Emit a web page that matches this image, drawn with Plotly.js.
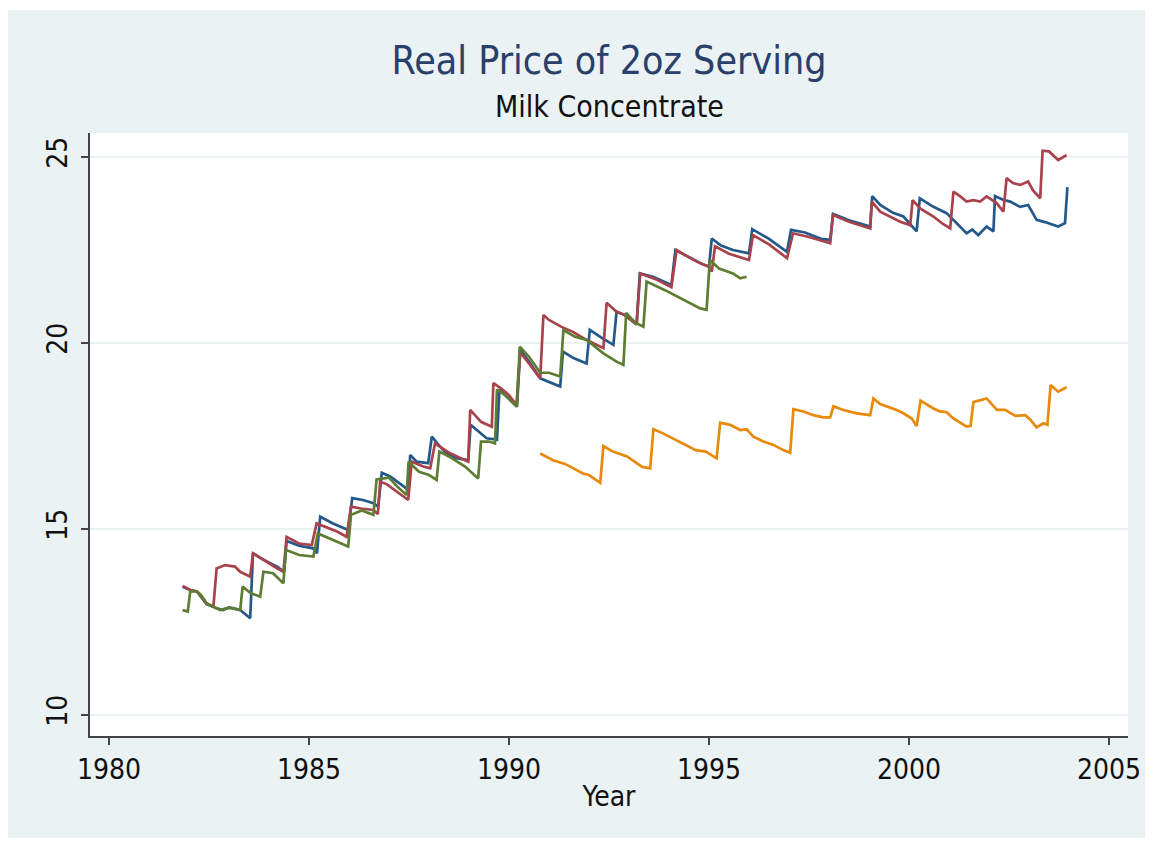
<!DOCTYPE html>
<html>
<head>
<meta charset="utf-8">
<script src="https://cdn.plot.ly/plotly-3.0.1.min.js"></script>
<style>
  html, body { margin: 0; padding: 0; background: #ffffff; width: 1153px; height: 843px; overflow: hidden; }
  #chart { position: absolute; left: 8px; top: 10px; width: 1137px; height: 828px; }
</style>
</head>
<body>
<div id="chart"></div>
<script>
// ---- Data ----
const blueYears = [1981.84,1982.03,1982.2,1982.44,1982.69,1982.85,1983.0,1983.28,1983.53,1983.6,1983.8,1984.2,1984.38,1984.44,1984.75,1985.1,1985.2,1985.28,1985.6,1985.98,1986.08,1986.35,1986.61,1986.73,1986.82,1987.03,1987.3,1987.48,1987.53,1987.69,1987.98,1988.07,1988.28,1988.44,1988.69,1988.98,1989.04,1989.44,1989.7,1989.76,1990.0,1990.2,1990.28,1990.5,1990.78,1991.0,1991.28,1991.35,1991.6,1991.94,1992.02,1992.3,1992.61,1992.69,1992.9,1993.19,1993.27,1993.6,1994.06,1994.16,1994.5,1994.8,1995.0,1995.07,1995.3,1995.6,1996.0,1996.08,1996.5,1996.95,1997.05,1997.4,1997.8,1998.03,1998.1,1998.5,1999.03,1999.08,1999.28,1999.6,1999.86,2000.19,2000.27,2000.61,2000.94,2001.11,2001.44,2001.58,2001.73,2001.94,2002.11,2002.15,2002.35,2002.53,2002.78,2002.98,2003.19,2003.4,2003.73,2003.9,2003.96];
const blueValues = [13.45,13.36,13.32,12.98,12.87,12.82,12.89,12.82,12.6,14.35,14.21,13.99,13.85,14.68,14.55,14.48,14.35,15.33,15.15,14.97,15.83,15.78,15.69,15.6,16.51,16.41,16.2,16.05,16.99,16.81,16.77,17.48,17.21,17.03,16.9,16.85,17.8,17.44,17.4,18.74,18.5,18.29,19.8,19.5,19.05,18.95,18.83,19.77,19.6,19.45,20.35,20.15,19.95,20.84,20.75,20.5,21.87,21.78,21.56,22.5,22.3,22.14,22.05,22.81,22.62,22.5,22.41,23.06,22.8,22.45,23.04,22.97,22.8,22.77,23.47,23.3,23.13,23.95,23.71,23.5,23.4,23.0,23.89,23.66,23.49,23.31,22.95,23.05,22.9,23.13,23.0,23.95,23.85,23.8,23.66,23.71,23.31,23.25,23.13,23.22,24.19];

const redYears = [1981.84,1982.03,1982.2,1982.44,1982.61,1982.69,1982.9,1983.15,1983.28,1983.53,1983.6,1983.8,1984.2,1984.36,1984.44,1984.75,1985.07,1985.19,1985.4,1985.7,1985.94,1986.05,1986.3,1986.61,1986.72,1986.78,1986.95,1987.2,1987.48,1987.57,1987.86,1988.03,1988.15,1988.5,1988.9,1988.98,1989.03,1989.3,1989.57,1989.61,1989.8,1990.0,1990.19,1990.28,1990.5,1990.78,1990.86,1991.0,1991.3,1991.6,1991.86,1992.1,1992.36,1992.44,1992.69,1992.9,1993.19,1993.28,1993.7,1994.06,1994.19,1994.5,1994.78,1995.0,1995.07,1995.15,1995.5,1996.0,1996.1,1996.5,1996.95,1997.1,1997.5,1998.03,1998.1,1998.5,1999.03,1999.07,1999.28,1999.78,2000.03,2000.09,2000.28,2000.61,2000.85,2001.03,2001.11,2001.28,2001.44,2001.61,2001.78,2001.94,2002.19,2002.36,2002.44,2002.6,2002.78,2002.98,2003.1,2003.28,2003.34,2003.5,2003.73,2003.94];
const redValues = [13.47,13.36,13.32,13.0,12.91,13.94,14.03,13.99,13.85,13.72,14.35,14.21,13.94,13.85,14.79,14.61,14.57,15.15,15.06,14.93,14.79,15.6,15.55,15.51,15.4,16.27,16.2,16.0,15.78,16.81,16.68,16.63,17.3,17.05,16.85,16.81,18.2,17.88,17.75,18.92,18.78,18.6,18.33,19.75,19.45,19.05,20.75,20.62,20.44,20.3,20.13,20.0,19.86,21.08,20.84,20.75,20.5,21.87,21.7,21.5,22.5,22.3,22.14,22.05,21.92,22.6,22.4,22.23,22.9,22.65,22.28,22.95,22.85,22.68,23.44,23.26,23.08,23.8,23.53,23.26,23.17,23.84,23.62,23.4,23.2,23.08,24.07,23.94,23.8,23.84,23.8,23.94,23.76,23.53,24.43,24.3,24.25,24.34,24.1,23.89,25.17,25.15,24.92,25.05];

const greenYears = [1981.84,1981.97,1982.03,1982.2,1982.3,1982.44,1982.61,1982.78,1982.95,1983.1,1983.28,1983.34,1983.55,1983.78,1983.86,1984.1,1984.36,1984.42,1984.75,1985.11,1985.22,1985.6,1985.98,1986.05,1986.32,1986.61,1986.69,1987.0,1987.2,1987.44,1987.49,1987.75,1988.0,1988.19,1988.26,1988.5,1988.9,1989.23,1989.3,1989.5,1989.65,1989.7,1989.9,1990.19,1990.27,1990.5,1990.78,1991.0,1991.28,1991.36,1991.65,1991.94,1992.36,1992.69,1992.86,1992.93,1993.15,1993.36,1993.44,1993.9,1994.4,1994.78,1994.94,1995.02,1995.25,1995.6,1995.78,1995.94];
const greenValues = [12.82,12.78,13.32,13.32,13.23,13.0,12.91,12.82,12.87,12.87,12.82,13.45,13.27,13.18,13.85,13.81,13.54,14.44,14.3,14.26,14.88,14.7,14.53,15.38,15.5,15.38,16.33,16.38,16.15,15.91,16.81,16.54,16.45,16.32,17.08,16.95,16.68,16.36,17.35,17.35,17.3,18.75,18.6,18.29,19.9,19.63,19.2,19.2,19.1,20.35,20.17,20.08,19.72,19.5,19.41,20.81,20.55,20.44,21.65,21.42,21.15,20.93,20.89,22.23,22.0,21.87,21.74,21.78];

const orangeYears = [1990.78,1991.1,1991.4,1991.6,1991.85,1992.0,1992.28,1992.36,1992.6,1992.95,1993.2,1993.33,1993.53,1993.61,1993.85,1994.25,1994.67,1994.92,1995.19,1995.28,1995.53,1995.78,1995.94,1996.11,1996.36,1996.61,1996.86,1997.03,1997.11,1997.36,1997.61,1997.85,1998.03,1998.11,1998.36,1998.69,1999.03,1999.11,1999.28,1999.69,1999.86,2000.07,2000.19,2000.29,2000.61,2000.78,2000.94,2001.11,2001.44,2001.54,2001.61,2001.94,2002.2,2002.4,2002.66,2002.91,2003.04,2003.19,2003.36,2003.46,2003.54,2003.73,2003.94];
const orangeValues = [17.03,16.85,16.75,16.63,16.49,16.45,16.24,17.23,17.08,16.95,16.78,16.67,16.63,17.68,17.57,17.35,17.12,17.08,16.9,17.86,17.8,17.66,17.68,17.48,17.35,17.26,17.12,17.05,18.22,18.16,18.06,18.0,18.0,18.3,18.2,18.11,18.06,18.51,18.36,18.2,18.11,17.97,17.77,18.45,18.24,18.16,18.14,17.97,17.75,17.77,18.41,18.51,18.2,18.2,18.04,18.06,17.93,17.73,17.84,17.8,18.87,18.69,18.81];

const xTicks = [1980, 1985, 1990, 1995, 2000, 2005];
const yTicks = [10, 15, 20, 25];

const titleText = 'Real Price of 2oz Serving';
const subtitleText = 'Milk Concentrate';
const xTitle = 'Year';

// ---- Styles ----
const FONT = '"Liberation Sans Narrow", "Arial Narrow", "DejaVu Sans Condensed", sans-serif';
const seriesDefs = [
  {x: blueYears, y: blueValues, color: '#22598a'},
  {x: redYears, y: redValues, color: '#a8434c'},
  {x: greenYears, y: greenValues, color: '#5d7d33'},
  {x: orangeYears, y: orangeValues, color: '#e8890a'}
];

const traces = seriesDefs.map(s => ({
  type: 'scatter', mode: 'lines', x: s.x, y: s.y,
  line: {color: s.color, width: 2.7}, hoverinfo: 'x+y', showlegend: false
}));

const layout = {
  width: 1137, height: 828,
  paper_bgcolor: '#eaf2f3',
  plot_bgcolor: '#ffffff',
  margin: {l: 82, r: 17, t: 123, b: 102},
  showlegend: false,
  title: {
    text: titleText,
    font: {family: FONT, size: 39, color: '#2b3f6b'},
    x: 0.5, xanchor: 'center', xref: 'paper',
    y: 1 - 50/828, yanchor: 'middle', yref: 'container'
  },
  annotations: [{
    text: subtitleText, xref: 'paper', yref: 'paper', x: 0.5, y: (726 - 97) / 603,
    xanchor: 'center', yanchor: 'middle', showarrow: false,
    font: {family: FONT, size: 30, color: '#111111'}
  }],
  xaxis: {
    range: [1979.525, 2005.475],
    tickvals: xTicks, ticktext: xTicks.map(String),
    ticks: 'outside', ticklen: 7, tickwidth: 1.5, tickcolor: '#444',
    showline: true, linecolor: '#444', linewidth: 2,
    showgrid: false, zeroline: false,
    tickfont: {family: FONT, size: 28, color: '#111'},
    ticklabelstandoff: 0,
    title: {text: xTitle, font: {family: FONT, size: 28, color: '#111'}, standoff: 2}
  },
  yaxis: {
    range: [9.435, 25.645],
    tickvals: yTicks, ticktext: yTicks.map(String),
    ticks: 'outside', ticklen: 7, tickwidth: 1.5, tickcolor: '#444',
    showline: true, linecolor: '#444', linewidth: 2,
    showgrid: true, gridcolor: '#eaf2f3', gridwidth: 2.5,
    zeroline: false,
    tickangle: -90,
    tickfont: {family: FONT, size: 28, color: '#111'},
    ticklabelstandoff: 3
  }
};

Plotly.newPlot('chart', traces, layout, {displayModeBar: false, staticPlot: true});
</script>
</body>
</html>
